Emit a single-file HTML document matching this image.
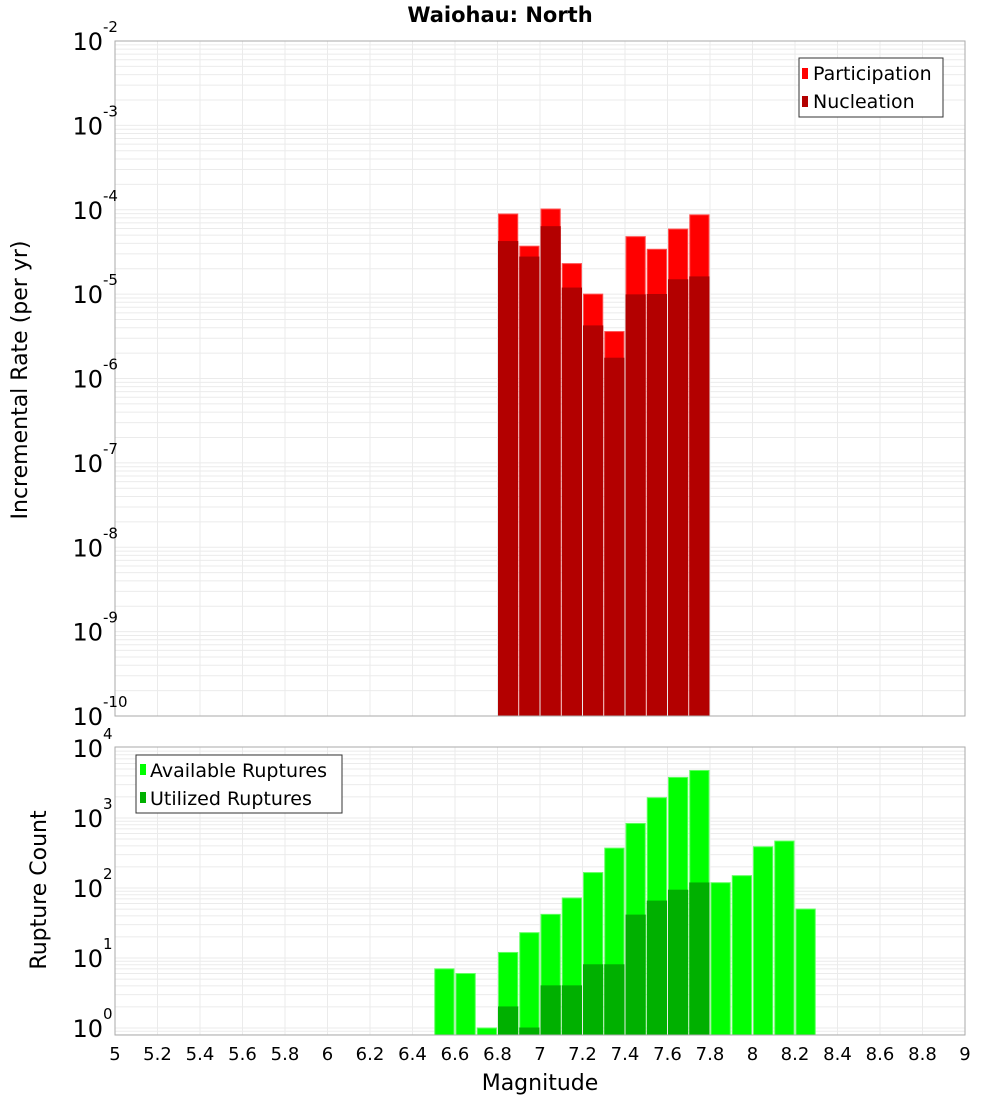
<!DOCTYPE html>
<html><head><meta charset="utf-8"><style>
body{margin:0;background:#fff;}
svg{display:block;font-family:"DejaVu Sans","Liberation Sans",sans-serif;}
</style></head><body>
<svg id="c" width="1000" height="1100" xmlns="http://www.w3.org/2000/svg"></svg>
<script>
const bins = [6.55,6.65,6.75,6.85,6.95,7.05,7.15,7.25,7.35,7.45,7.55,7.65,7.75,7.85,7.95,8.05,8.15,8.25];
const rateBins = [6.85,6.95,7.05,7.15,7.25,7.35,7.45,7.55,7.65,7.75];
const participation = [8.9e-5,3.7e-5,1.02e-4,2.3e-5,1.0e-5,3.6e-6,4.8e-5,3.4e-5,5.9e-5,8.7e-5];
const nucleation = [4.2e-5,2.75e-5,6.3e-5,1.18e-5,4.2e-6,1.74e-6,9.8e-6,9.9e-6,1.48e-5,1.6e-5];
const available = [7,6,1,12,23,42,72,166,371,836,1950,3800,4770,119,150,388,468,50];
const utilizedBins = [6.85,6.95,7.05,7.15,7.25,7.35,7.45,7.55,7.65,7.75];
const utilized = [2,1,4,4,8,8,41,65,93,118];
const xTicks = [5,5.2,5.4,5.6,5.8,6,6.2,6.4,6.6,6.8,7,7.2,7.4,7.6,7.8,8,8.2,8.4,8.6,8.8,9];
const topExp = [-2,-3,-4,-5,-6,-7,-8,-9,-10];
const botExp = [4,3,2,1,0];

const svg = document.getElementById('c');
const NS = 'http://www.w3.org/2000/svg';
function mk(tag, attrs, parent){const e=document.createElementNS(NS,tag);for(const k in attrs)e.setAttribute(k,attrs[k]);(parent||svg).appendChild(e);return e;}
const X0=115,X1=965;
const x = m => X0+(m-5)/4*(X1-X0);
const T0=41,T1=716; const yTop = v => T0+(-2-Math.log10(v))/8*(T1-T0);
const B0=747,B1=1035; const LB0=4.014,LB1=-0.1;
const yBot = v => B0+(LB0-Math.log10(v))/(LB0-LB1)*(B1-B0);
const bw = x(5.1)-x(5);

function grid(top,bot,yf,expMin,expMax){
  const g=mk('g',{});
  
  
  xTicks.forEach(t=>mk('line',{x1:x(t),x2:x(t),y1:top,y2:bot,stroke:'#ebebeb','stroke-width':1},g));
  for(let e=expMin;e<=expMax;e++)for(let k=1;k<10;k++){const yy=yf(k*Math.pow(10,e));if(yy>=top&&yy<=bot)mk('line',{x1:X0,x2:X1,y1:yy,y2:yy,stroke:'#ebebeb','stroke-width':1},g);}
}
grid(T0,T1,yTop,-10,-3);
grid(B0,B1,yBot,-1,3);

function bar(m,v,yf,base,fill,stroke,name){
  const y=yf(v);
  const r=mk('rect',{x:x(m)-bw/2+1,y:y,width:bw-2,height:base-y,fill:fill,stroke:stroke,'stroke-width':1});
  
  
}
rateBins.forEach((m,i)=>bar(m,participation[i],yTop,T1,'#ff0000','#ff5050','participation-bar'));
rateBins.forEach((m,i)=>bar(m,nucleation[i],yTop,T1,'#b30000','#b30000','nucleation-bar'));
bins.forEach((m,i)=>bar(m,available[i],yBot,B1,'#00ff00','#60ff60','available-bar'));
utilizedBins.forEach((m,i)=>bar(m,utilized[i],yBot,B1,'#00b000','#00b000','utilized-bar'));

mk('rect',{x:X0,y:T0,width:X1-X0,height:T1-T0,fill:'none',stroke:'#aaa','stroke-width':1});
mk('rect',{x:X0,y:B0,width:X1-X0,height:B1-B0,fill:'none',stroke:'#aaa','stroke-width':1});

function ylab(e,yy){
  const t=mk('text',{x:103,y:yy+9,'text-anchor':'end','font-size':24,fill:'#000'});
  
  
  t.textContent='10';
  const s=mk('text',{x:103,y:yy-9,'font-size':15,fill:'#000'});
  
  
  s.textContent=String(e);
}
topExp.forEach(e=>ylab(e,yTop(Math.pow(10,e))));
botExp.forEach(e=>ylab(e,yBot(Math.pow(10,e))));
xTicks.forEach(t=>{
  const l=mk('text',{x:x(t),y:1060,'text-anchor':'middle','font-size':18,fill:'#000'});
  
  
  l.textContent=String(t);
});
</script>
<svg style="position:absolute;left:0;top:0" width="1000" height="1100" xmlns="http://www.w3.org/2000/svg">
<text x="500" y="22" text-anchor="middle" font-size="21" font-weight="bold" font-family="DejaVu Sans, Liberation Sans, sans-serif">Waiohau: North</text>
<text x="540" y="1090" text-anchor="middle" font-size="22" font-family="DejaVu Sans, Liberation Sans, sans-serif">Magnitude</text>
<text transform="translate(27,380) rotate(-90)" text-anchor="middle" font-size="22" font-family="DejaVu Sans, Liberation Sans, sans-serif">Incremental Rate (per yr)</text>
<text transform="translate(46,890) rotate(-90)" text-anchor="middle" font-size="22" font-family="DejaVu Sans, Liberation Sans, sans-serif">Rupture Count</text>
<g font-family="DejaVu Sans, Liberation Sans, sans-serif" font-size="19">
<rect x="799" y="58" width="144" height="59" fill="#fff" stroke="#333" stroke-width="1"/>
<rect x="802" y="68" width="6" height="11" fill="#ff0000"/>
<text x="813" y="80">Participation</text>
<rect x="802" y="96" width="6" height="11" fill="#b30000"/>
<text x="813" y="108">Nucleation</text>
</g>
<g font-family="DejaVu Sans, Liberation Sans, sans-serif" font-size="19">
<rect x="136" y="755" width="206" height="58" fill="#fff" stroke="#333" stroke-width="1"/>
<rect x="140" y="764" width="6" height="11" fill="#00ff00"/>
<text x="150" y="777">Available Ruptures</text>
<rect x="140" y="792" width="6" height="11" fill="#00b000"/>
<text x="150" y="805">Utilized Ruptures</text>
</g>
</svg>
</body></html>
